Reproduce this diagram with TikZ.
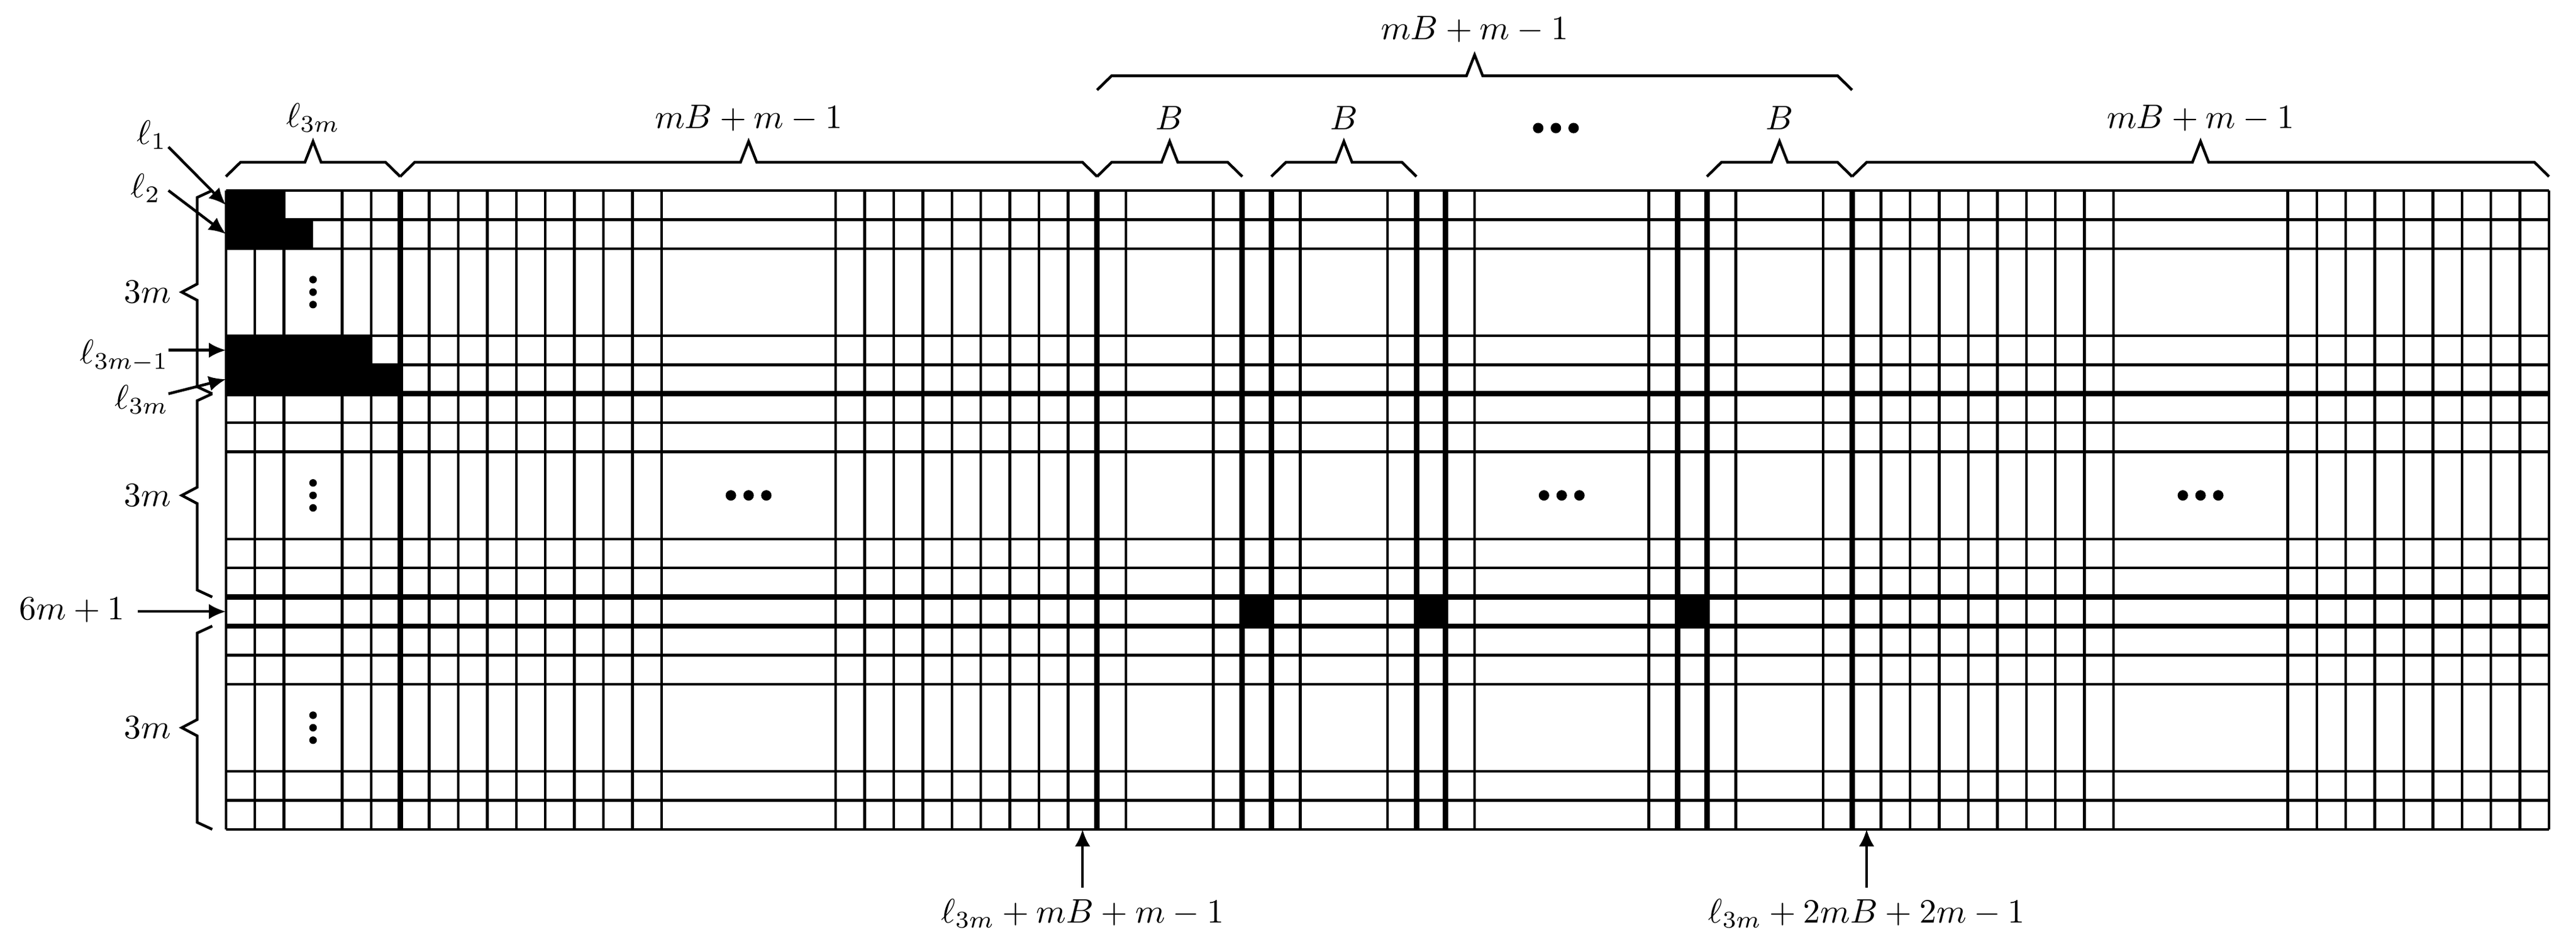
\documentclass[tikz,border=0pt]{standalone}
\usetikzlibrary{arrows.meta}
\tikzset{
  thinl/.style={line width=0.8pt},
  thickl/.style={line width=1.6pt},
  bracel/.style={line width=0.8pt,line join=miter},
  arr/.style={line width=0.8pt,-{Latex[length=5pt,width=4.5pt]}},
  lbl/.style={inner sep=1pt,font=\fontsize{10.4}{12.5}\selectfont}
}
\newcommand\topbr[3]{% x1 x2 ybase
  \draw[bracel] (#1,#3) -- ++(0.5,0.49) -- ({(#1+#2)/2-0.28},#3+0.49) -- ({(#1+#2)/2},#3+1.21) -- ({(#1+#2)/2+0.28},#3+0.49) -- (#2-0.5,#3+0.49) -- (#2,#3);}
\newcommand\leftbr[2]{% ytop ybottom
  \draw[bracel] (-0.47,#1) -- (-0.99,#1-0.24) -- (-0.99,{(#1+#2)/2+0.28}) -- (-1.52,{(#1+#2)/2}) -- (-0.99,{(#1+#2)/2-0.28}) -- (-0.99,#2+0.24) -- (-0.47,#2);}
\newcommand\hdots[2]{\foreach \d in {-0.61,0,0.61} \fill (#1+\d,#2) circle (0.18);}
\newcommand\vdotz[2]{\foreach \d in {-0.43,0,0.43} \fill (#1,#2+\d) circle (0.13);}
\begin{document}
\begin{tikzpicture}[x=0.3cm,y=0.3cm]
\useasboundingbox (-7.78,-26.22) rectangle (80.93,6.56);
% black cells
\fill (0,0) rectangle (2,-1);
\fill (0,-1) rectangle (3,-2);
\fill (0,-5) rectangle (5,-6);
\fill (0,-6) rectangle (6,-7);
\foreach \c in {35,41,50} \fill (\c,-14) rectangle (\c+1,-15);
% grid
\foreach \x in {0,1,2,4,5,7,8,9,10,11,12,13,14,15,21,22,23,24,25,26,27,28,29,31,34,37,40,43,49,52,55,57,58,59,60,61,62,63,64,65,71,72,73,74,75,76,77,78,79,80}
  \draw[thinl] (\x,0) -- (\x,-22);
\foreach \x in {6,30,35,36,41,42,50,51,56}
  \draw[thickl] (\x,0) -- (\x,-22);
\foreach \y in {0,1,2,5,6,8,9,12,13,16,17,20,21,22}
  \draw[thinl] (0,-\y) -- (80,-\y);
\foreach \y in {7,14,15}
  \draw[thickl] (0,-\y) -- (80,-\y);
% dots
\vdotz{3}{-3.5}\vdotz{3}{-10.5}\vdotz{3}{-18.5}
\hdots{18}{-10.5}\hdots{46}{-10.5}\hdots{68}{-10.5}
\hdots{45.8}{2.15}
% top braces
\topbr{0}{6}{0.48}\topbr{6}{30}{0.48}\topbr{30}{35}{0.48}\topbr{36}{41}{0.48}\topbr{51}{56}{0.48}\topbr{56}{80}{0.48}
\topbr{30}{56}{3.46}
\node[lbl] (t1) at (3,2.5) {$\ell_{3m}$};
\node[lbl] (t2) at (18,2.5) {$mB+m-1$};
\node[lbl] (t3) at (32.5,2.5) {$B$};
\node[lbl] (t4) at (38.5,2.5) {$B$};
\node[lbl] (t5) at (53.5,2.5) {$B$};
\node[lbl] (t6) at (68,2.5) {$mB+m-1$};
\node[lbl] (t7) at (43,5.55) {$mB+m-1$};
% left braces
\leftbr{0}{-7}\leftbr{-7}{-14}\leftbr{-15}{-22}
\node[lbl] (s1) at (-2.7,-3.5) {$3m$};
\node[lbl] (s2) at (-2.7,-10.5) {$3m$};
\node[lbl] (s3) at (-2.7,-18.5) {$3m$};
% left arrows
\coordinate (p1) at (0,-0.5); \coordinate (p2) at (0,-1.5);
\coordinate (p3) at (0,-5.5); \coordinate (p4) at (0,-6.5);
\coordinate (p5) at (0,-14.5);
\node[lbl] (l1) at (-2.55,1.92) {$\ell_1$};
\node[lbl] (l2) at (-2.76,0.08) {$\ell_2$};
\node[lbl] (l3) at (-3.5,-5.7) {$\ell_{3m-1}$};
\node[lbl] (l4) at (-2.9,-7.2) {$\ell_{3m}$};
\node[lbl] (l5) at (-5.3,-14.45) {$6m+1$};
\draw[arr] (-1.98,1.5) -- (p1);
\draw[arr] (-1.98,0) -- (p2);
\draw[arr] (-1.98,-5.5) -- (p3);
\draw[arr] (-1.98,-7.0) -- (p4);
\draw[arr] (l5.east) ++(0.3,-0.05) -- (p5);
% bottom arrows
\coordinate (b1) at (29.5,-22); \coordinate (b2) at (56.5,-22);
\node[lbl] (bl1) at (29.5,-24.9) {$\ell_{3m}+mB+m-1$};
\node[lbl] (bl2) at (56.5,-24.9) {$\ell_{3m}+2mB+2m-1$};
\draw[arr] (29.5,-24.0) -- (b1);
\draw[arr] (56.5,-24.0) -- (b2);
\end{tikzpicture}
\end{document}
